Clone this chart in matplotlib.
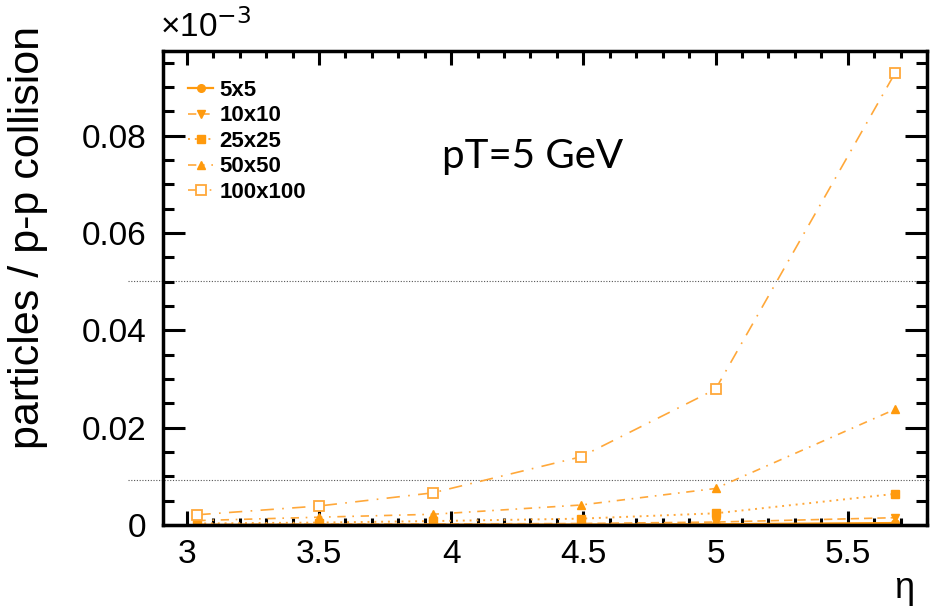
import numpy as np
import matplotlib
matplotlib.use("Agg")
import matplotlib.pyplot as plt
from matplotlib.ticker import MultipleLocator

plt.rcParams['font.family'] = ['Liberation Sans', 'DejaVu Sans']

# eta positions of the points
eta = [3.04, 3.50, 3.93, 4.49, 5.00, 5.68]

# particles / p-p collision for each cell size
y_5x5 = [0.00003, 0.00005, 0.00007, 0.0001, 0.00015, 0.0004]
y_10x10 = [0.0001, 0.00015, 0.0002, 0.0003, 0.0006, 0.0015]
y_25x25 = [0.0003, 0.0005, 0.0008, 0.0013, 0.0024, 0.0064]
y_50x50 = [0.0009, 0.0016, 0.0022, 0.0041, 0.0075, 0.0238]
y_100x100 = [0.0021, 0.0039, 0.0066, 0.0140, 0.0279, 0.0930]

labels = ["5x5", "10x10", "25x25", "50x50", "100x100"]
guide_lines = [0.0092, 0.0502]

orange = '#ff9a0d'
light = '#ffa83a'

fig = plt.figure(figsize=(9.3, 6.13), dpi=100)
ax = fig.add_axes([0.175, 0.1436, 0.8218, 0.7737])

ax.plot(eta, y_5x5, color=orange, lw=1.6, ls='-', marker='o', ms=5.5, label=labels[0])
ax.plot(eta, y_10x10, color=light, lw=1.2, ls=(0, (5, 3)), marker='v', ms=5.5, mfc=orange, mec=orange, label=labels[1])
ax.plot(eta, y_25x25, color=light, lw=1.4, ls=(0, (1, 2.5)), marker='s', ms=5.5, mec=orange, mfc=orange, label=labels[2])
ax.plot(eta, y_50x50, color=light, lw=1.2, ls=(0, (5, 4, 1, 4)), marker='^', ms=5.5, mfc=orange, mec=orange, label=labels[3])
ax.plot(eta, y_100x100, color=light, lw=1.2, ls=(0, (8, 5, 1, 5)), marker='s', ms=6.5, mfc='white', mec=light, mew=1.3, label=labels[4])

for g in guide_lines:
    ax.plot([-0.046, 1.004], [g, g], transform=ax.get_yaxis_transform(), color='#555555',
            lw=0.8, ls=(0, (1, 1.5)), clip_on=False, zorder=0)

ax.set_xlim(2.909, 5.80)
ax.set_ylim(0, 0.0975)

ax.xaxis.set_minor_locator(MultipleLocator(0.1))
ax.yaxis.set_minor_locator(MultipleLocator(0.005))
ax.set_xticks([3, 3.5, 4, 4.5, 5, 5.5])
ax.set_xticklabels(["3", "3.5", "4", "4.5", "5", "5.5"])
ax.set_yticks([0, 0.02, 0.04, 0.06, 0.08])
ax.set_yticklabels(["0", "0.02", "0.04", "0.06", "0.08"])

ax.tick_params(axis='both', which='both', direction='in', top=True, right=True, width=2.2, colors='black')
ax.tick_params(axis='y', which='major', length=16, labelsize=24, pad=12)
ax.tick_params(axis='y', which='minor', length=8)
ax.tick_params(axis='x', which='major', length=10, labelsize=24, pad=10)
ax.tick_params(axis='x', which='minor', length=5)
for s in ax.spines.values():
    s.set_linewidth(2.5)

ax.set_ylabel("particles / p-p collision", fontsize=31)
ax.yaxis.set_label_coords(-0.15, 0.607)

fig.text(0.972, 0.012, "η", fontsize=26, ha='center', va='bottom')
fig.text(0.172, 0.928, "×10$^{-3}$", fontsize=24, ha='left', va='bottom')

ax.text(0.366, 0.776, "pT=5 GeV", transform=ax.transAxes, fontsize=29,
        family=['Lato', 'DejaVu Sans'], ha='left', va='center')

leg = ax.legend(loc='upper left', bbox_to_anchor=(0.022, 0.957), frameon=False,
                handlelength=1.1, handletextpad=0.3, labelspacing=0.2, borderaxespad=0,
                prop={'weight': 'bold', 'size': 16})

fig.savefig("out.png", dpi=100)
